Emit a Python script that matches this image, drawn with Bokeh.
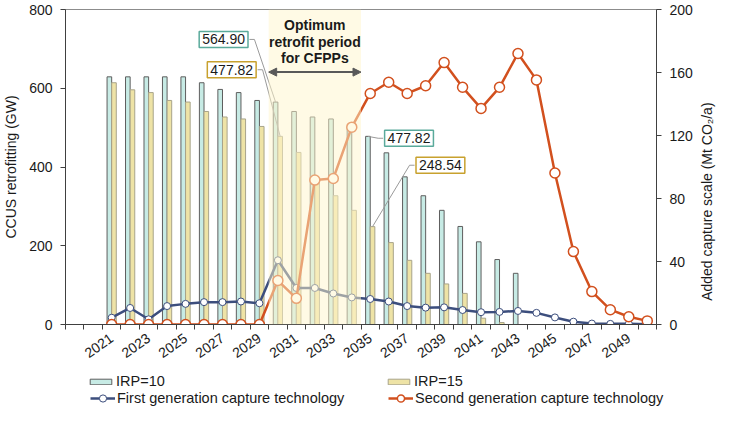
import math
import pandas as pd
from bokeh.plotting import figure
from bokeh.layouts import row
from bokeh.models import (ColumnDataSource, Range1d, LinearAxis, FixedTicker, BoxAnnotation,
                          Label, Arrow, NormalHead, Legend, LegendItem)
from bokeh.transform import dodge
from bokeh.embed import file_html
from bokeh.resources import INLINE

# data
years = list(range(2021, 2051))
irp10 = [629, 629, 629, 629, 629, 614, 597, 589, 569, 564.90,
         541, 527, 522, 503, 477.82, 436, 375, 327, 290, 249,
         210, 165, 130, 0, 0, 0, 0, 0, 0, 0]
irp15 = [614, 596, 589, 569, 565, 541, 527, 522, 503, 477.82,
         437, 370, 327, 290, 248.54, 208, 163, 130, 103, 79,
         16, 5, 0, 0, 0, 0, 0, 0, 0, 0]
first_gen = [4.3, 10.5, 3.3, 11.7, 13.1, 14.2, 14.2, 14.6, 13.5, 40.8,
             23.2, 23.2, 19.7, 17.2, 16.2, 14.6, 11.7, 10.7, 10.9, 9.2,
             7.8, 8.0, 8.6, 7.4, 4.5, 1.8, 0.6, 0.4, 0.4, 0.2]
second_gen = [0, 0, 0, 0, 0, 0, 0, 0, 0, 27.9,
              16.6, 91.7, 92.7, 125.3, 146.7, 153.8, 146.7, 151.6, 166.3, 150.6,
              137.2, 150.6, 172.1, 155.3, 96.2, 46.3, 20.9, 9.4, 4.9, 2.3]
year_ticks = list(range(2021, 2050, 2))
gw_ticks = [0, 200, 400, 600, 800]
co2_ticks = [0, 40, 80, 120, 160, 200]

FONT = "Liberation Sans"
NAVY = "#3C4E7D"
ORANGE = "#D2501E"
TEAL_EDGE = "#5AAA9B"
GOLD_EDGE = "#C8A12E"
AXIS = "#404040"
TXT = "#1A1A1A"
BAR10 = dict(fill_color="#C7EBE5", line_color="#5E5E5E", line_width=1)
BAR15 = dict(fill_color="#EEE3A6", line_color="#A8A48A", line_width=1)

p = figure(width=696, height=365, x_range=Range1d(2018.5, 2050.5), y_range=Range1d(0, 800),
           output_backend="svg", toolbar_location=None,
           min_border_left=65, min_border_right=40, min_border_top=9, min_border_bottom=40)
p.extra_y_ranges = {"co2": Range1d(0, 200)}
p.xgrid.visible = False
p.ygrid.visible = False
p.outline_line_color = "#8C8C8C"

# bars
bars = pd.DataFrame({"year": years, "irp10": irp10, "irp15": irp15})
src10 = ColumnDataSource(bars[bars.irp10 > 0])
src15 = ColumnDataSource(bars[bars.irp15 > 0])
p.vbar(x=dodge("year", -0.125), top="irp10", width=0.25, source=src10, **BAR10)
p.vbar(x=dodge("year", 0.125), top="irp15", width=0.25, source=src15, **BAR15)

# leader lines from the callouts to the bar tops
def leader(cx, cy, side, bar_x, bar_top):
    half = 1.40 * side
    p.line([cx + half, cx + half + 0.27 * side, bar_x], [cy, cy, bar_top],
           line_color="#9A9A9A", line_width=1)

i30 = years.index(2030)
i35 = years.index(2035)
leader(2027.06, 724, 1, 2030 - 0.125, irp10[i30])
leader(2027.5, 647, 1, 2030 + 0.125, irp15[i30])
leader(2037.1, 473, -1, 2035 - 0.125, irp10[i35])
leader(2038.8, 404.5, -1, 2035 + 0.125, irp15[i35])

# capture lines
lines = ColumnDataSource(dict(year=years, first=first_gen, second=second_gen))
p.line("year", "first", source=lines, y_range_name="co2", line_color=NAVY, line_width=2.5)
p.scatter("year", "first", source=lines, y_range_name="co2", size=7,
          fill_color="white", line_color=NAVY, line_width=1)
p.line("year", "second", source=lines, y_range_name="co2", line_color=ORANGE, line_width=2.5)
p.scatter("year", "second", source=lines, y_range_name="co2", size=10,
          fill_color="white", line_color=ORANGE, line_width=1.5)

# optimum period shade
p.add_layout(BoxAnnotation(left=2029.5, right=2034.5, fill_color="#FFF6CC", fill_alpha=0.5,
                           line_color=None))
for txt, ty in [("Optimum", 760), ("retrofit period", 717), ("for CFPPs", 676)]:
    p.add_layout(Label(x=2032, y=ty, text=txt, text_align="center", text_baseline="middle",
                       text_font=FONT, text_font_size="14px", text_font_style="bold",
                       text_color=TXT))
p.add_layout(Arrow(x_start=2029.5, x_end=2034.5, y_start=641, y_end=641,
                   start=NormalHead(size=8, fill_color="#595959", line_color="#595959"),
                   end=NormalHead(size=8, fill_color="#595959", line_color="#595959"),
                   line_color="#595959", line_width=2))

# callout boxes
for txt, cx, cy, edge in [("564.90", 2027.06, 724, TEAL_EDGE), ("477.82", 2027.5, 647, GOLD_EDGE),
                          ("477.82", 2037.1, 473, TEAL_EDGE), ("248.54", 2038.8, 404.5, GOLD_EDGE)]:
    p.add_layout(Label(x=cx, y=cy, text=txt, text_align="center", text_baseline="middle",
                       text_font=FONT, text_font_size="14px", text_color=TXT,
                       border_line_color=edge, border_line_width=1.5,
                       background_fill_color="white", padding=3))

# axes
p.xaxis.ticker = FixedTicker(ticks=year_ticks, minor_ticks=[y - 0.5 for y in range(2019, 2052)])
p.xaxis.major_tick_line_color = None
p.xaxis.minor_tick_out = 5
p.xaxis.minor_tick_in = 0
p.xaxis.minor_tick_line_color = AXIS
p.xaxis.major_label_orientation = 0.61
p.xaxis.major_label_standoff = 6

p.yaxis.ticker = gw_ticks
p.yaxis.axis_label = "CCUS retrofitting (GW)"
right = LinearAxis(y_range_name="co2", ticker=co2_ticks)
p.add_layout(right, "right")

for ax in p.axis:
    ax.axis_line_color = AXIS
    ax.major_label_text_font = FONT
    ax.major_label_text_font_size = "14px"
    ax.major_label_text_color = TXT
    ax.axis_label_text_font = FONT
    ax.axis_label_text_font_size = "14px"
    ax.axis_label_text_font_style = "normal"
    ax.axis_label_text_color = TXT
for ax in p.yaxis:
    ax.major_tick_out = 5
    ax.major_tick_in = 0
    ax.major_tick_line_color = AXIS
    ax.minor_tick_line_color = None
    ax.major_label_standoff = 8
    ax.axis_label_standoff = 7

# narrow strip to the right holding the right-axis title, reading bottom-to-top
strip = figure(width=24, height=365, x_range=Range1d(0, 1), y_range=Range1d(0, 200),
               x_axis_type=None, y_axis_type=None, output_backend="svg", toolbar_location=None,
               min_border_left=0, min_border_right=0, min_border_top=9, min_border_bottom=40)
strip.outline_line_color = None
strip.grid.visible = False
strip.add_layout(Label(x=0.45, y=78, angle=math.pi / 2,
                       text="Added capture scale (Mt CO\u2082/a)", text_align="center",
                       text_baseline="middle", text_font=FONT, text_font_size="14px",
                       text_color=TXT))

# legend strip under the chart (its own root, frame = whole canvas)
leg = figure(width=720, height=42, x_range=Range1d(0, 720), y_range=Range1d(0, 42),
             x_axis_type=None, y_axis_type=None, output_backend="svg", toolbar_location=None,
             min_border_left=0, min_border_right=0, min_border_top=0, min_border_bottom=0)
leg.outline_line_color = None
leg.grid.visible = False
off = dict(x=[-50], y=[-50])
k10 = leg.vbar(x=[-50], top=[-40], width=1, **BAR10)
k15 = leg.vbar(x=[-50], top=[-40], width=1, **BAR15)
k1 = [leg.line(line_color=NAVY, line_width=2.5, **off),
      leg.scatter(size=7, fill_color="white", line_color=NAVY, line_width=1, **off)]
k2 = [leg.line(line_color=ORANGE, line_width=2.5, **off),
      leg.scatter(size=10, fill_color="white", line_color=ORANGE, line_width=1.5, **off)]

def add_legend(label, renderers, vx, vy, gw, gh):
    lg = Legend(items=[LegendItem(label=label, renderers=renderers)], location=(vx, vy),
                orientation="horizontal", padding=0, margin=0, border_line_color=None,
                background_fill_alpha=0, glyph_width=gw, glyph_height=gh, label_height=16,
                label_standoff=2, label_text_font=FONT, label_text_font_size="14.5px",
                label_text_color=TXT)
    leg.add_layout(lg)

add_legend("IRP=10", [k10], 87, 18, 27, 7)
add_legend("IRP=15", [k15], 385, 18, 27, 7)
add_legend("First generation capture technology", k1, 90, 0, 25, 18)
add_legend("Second generation capture technology", k2, 388, 0, 25, 18)

open("out.html", "w").write(file_html([row(p, strip), leg], INLINE))
